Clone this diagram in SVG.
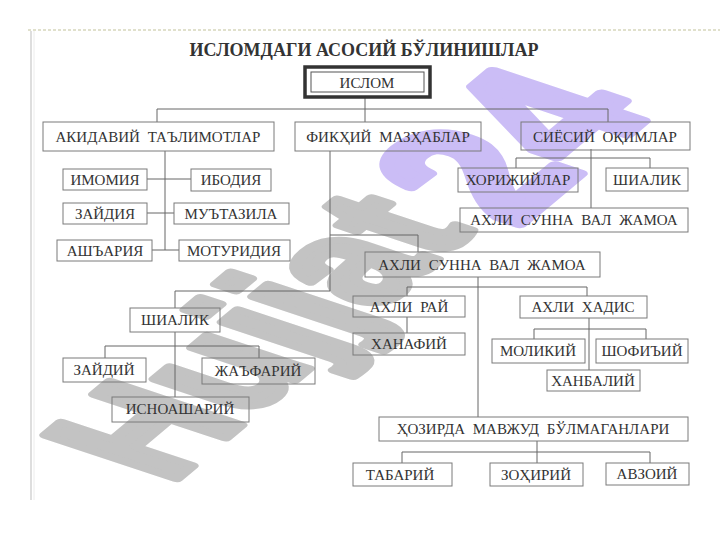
<svg xmlns="http://www.w3.org/2000/svg" width="720" height="540" viewBox="0 0 720 540">
<style>
.bx{fill:none;stroke:#7a7a7a;stroke-width:1}
.t{font-family:"Liberation Serif","Times New Roman",serif;font-size:15px;fill:#333;text-anchor:middle}
.w{word-spacing:4px}
.cn{fill:none;stroke:#666;stroke-width:1}
.wm{font-family:"Liberation Sans",Arial,sans-serif;font-weight:bold;font-size:100px;stroke-width:6;stroke-linejoin:round}
</style>
<rect width="720" height="540" fill="#fff"/>
<g id="frame">
<line x1="28" y1="30" x2="720" y2="30" stroke="#d6d6bc" stroke-width="1.5" stroke-dasharray="3 2"/>
<line x1="31" y1="31" x2="31" y2="500" stroke="#dedede" stroke-width="2"/>
<line x1="34" y1="31" x2="34" y2="500" stroke="#ececec" stroke-width="1"/>
</g>
<g id="watermark">
<text class="wm" transform="matrix(1.1 -0.92 1.9 0.63 169 485)" fill="#c3c3c3" stroke="#c3c3c3">Hujjat</text>
<text class="wm" transform="matrix(1.265 -1.058 2.185 0.725 515 228)" fill="#cbbdf6" stroke="#cbbdf6">24</text>
</g>
<text x="364" y="56" font-family="Liberation Serif,serif" font-weight="bold" font-size="18" fill="#333" text-anchor="middle">ИСЛОМДАГИ АСОСИЙ БЎЛИНИШЛАР</text>
<g id="connectors">
<path class="cn" d="M365 97V109M157 122V109H608V122M365 109V122"/>
<path class="cn" d="M165 151V250M147 179H191M147 213H174M152 250H179"/>
<path class="cn" d="M330 151V291H175V308M330 235H418V252"/>
<path class="cn" d="M591 149V208M516 168V158H650V168"/>
<path class="cn" d="M478 277V417M407 296V287H587V296M407 317V333"/>
<path class="cn" d="M589 318V370M534 339V329H646V339"/>
<path class="cn" d="M175 332V397M105 358V346H259V358"/>
<path class="cn" d="M537 441V463M402 463V452H650V463"/>
</g>
<g id="islom">
<rect x="305" y="67" width="125" height="30" fill="none" stroke="#333" stroke-width="3.5"/>
<rect x="311" y="72" width="113" height="20" fill="none" stroke="#555" stroke-width="1"/>
<text class="t" x="367" y="88" font-size="16">ИСЛОМ</text>
</g>
<g id="akidaviy"><rect class="bx" x="43" y="122" width="231" height="29"/><text class="t w" x="158" y="142">АКИДАВИЙ ТАЪЛИМОТЛАР</text></g>
<g id="fiqhiy"><rect class="bx" x="295" y="122" width="186" height="29"/><text class="t w" x="388" y="142">ФИКҲИЙ МАЗҲАБЛАР</text></g>
<g id="siyosiy"><rect class="bx" x="521" y="122" width="169" height="28"/><text class="t w" x="605" y="142">СИЁСИЙ ОҚИМЛАР</text></g>
<g id="imomiya"><rect class="bx" x="63" y="169" width="84" height="21"/><text class="t" x="105" y="185">ИМОМИЯ</text></g>
<g id="ibodiya"><rect class="bx" x="191" y="169" width="80" height="22"/><text class="t" x="231" y="185">ИБОДИЯ</text></g>
<g id="zaydiya"><rect class="bx" x="63" y="203" width="84" height="21"/><text class="t" x="105" y="219">ЗАЙДИЯ</text></g>
<g id="mutazila"><rect class="bx" x="174" y="203" width="115" height="21"/><text class="t" x="231" y="219">МУЪТАЗИЛА</text></g>
<g id="ashariya"><rect class="bx" x="57" y="240" width="95" height="21"/><text class="t" x="105" y="256">АШЪАРИЯ</text></g>
<g id="moturidiya"><rect class="bx" x="179" y="240" width="111" height="21"/><text class="t" x="234" y="256">МОТУРИДИЯ</text></g>
<g id="horijiylar"><rect class="bx" x="458" y="168" width="120" height="24"/><text class="t" x="518" y="185">ХОРИЖИЙЛАР</text></g>
<g id="shialik-r"><rect class="bx" x="606" y="168" width="82" height="23"/><text class="t" x="647" y="185">ШИАЛИК</text></g>
<g id="ahli-sunna-r"><rect class="bx" x="460" y="208" width="228" height="24"/><text class="t w" x="574" y="225">АХЛИ СУННА ВАЛ ЖАМОА</text></g>
<g id="ahli-sunna"><rect class="bx" x="365" y="252" width="235" height="25"/><text class="t w" x="482" y="270">АХЛИ СУННА ВАЛ ЖАМОА</text></g>
<g id="shialik-l"><rect class="bx" x="130" y="308" width="90" height="24"/><text class="t" x="175" y="325">ШИАЛИК</text></g>
<g id="zaydiy"><rect class="bx" x="63" y="358" width="83" height="24"/><text class="t" x="104" y="375">ЗАЙДИЙ</text></g>
<g id="jafariy"><rect class="bx" x="202" y="358" width="113" height="26"/><text class="t" x="258" y="376">ЖАЪФАРИЙ</text></g>
<g id="isnoashariy"><rect class="bx" x="112" y="397" width="137" height="25"/><text class="t" x="180" y="414">ИСНОАШАРИЙ</text></g>
<g id="ahli-ray"><rect class="bx" x="353" y="296" width="112" height="21"/><text class="t w" x="409" y="312">АХЛИ РАЙ</text></g>
<g id="hanafiy"><rect class="bx" x="353" y="333" width="112" height="22"/><text class="t" x="409" y="349">ХАНАФИЙ</text></g>
<g id="ahli-hadis"><rect class="bx" x="520" y="296" width="127" height="22"/><text class="t w" x="583" y="312">АХЛИ ХАДИС</text></g>
<g id="molikiy"><rect class="bx" x="492" y="339" width="93" height="24"/><text class="t" x="538" y="356">МОЛИКИЙ</text></g>
<g id="shofiiy"><rect class="bx" x="596" y="339" width="92" height="24"/><text class="t" x="642" y="356">ШОФИЪИЙ</text></g>
<g id="hanbaliy"><rect class="bx" x="547" y="370" width="93" height="21"/><text class="t" x="593" y="386">ХАНБАЛИЙ</text></g>
<g id="hozirda"><rect class="bx" x="379" y="417" width="309" height="24"/><text class="t w" x="533" y="434">ҲОЗИРДА МАВЖУД БЎЛМАГАНЛАРИ</text></g>
<g id="tabariy"><rect class="bx" x="353" y="463" width="99" height="23"/><text class="t" x="400" y="480">ТАБАРИЙ</text></g>
<g id="zohiriy"><rect class="bx" x="490" y="463" width="93" height="23"/><text class="t" x="536" y="480">ЗОҲИРИЙ</text></g>
<g id="avzoiy"><rect class="bx" x="606" y="463" width="83" height="22"/><text class="t" x="647" y="479">АВЗОИЙ</text></g>
</svg>
